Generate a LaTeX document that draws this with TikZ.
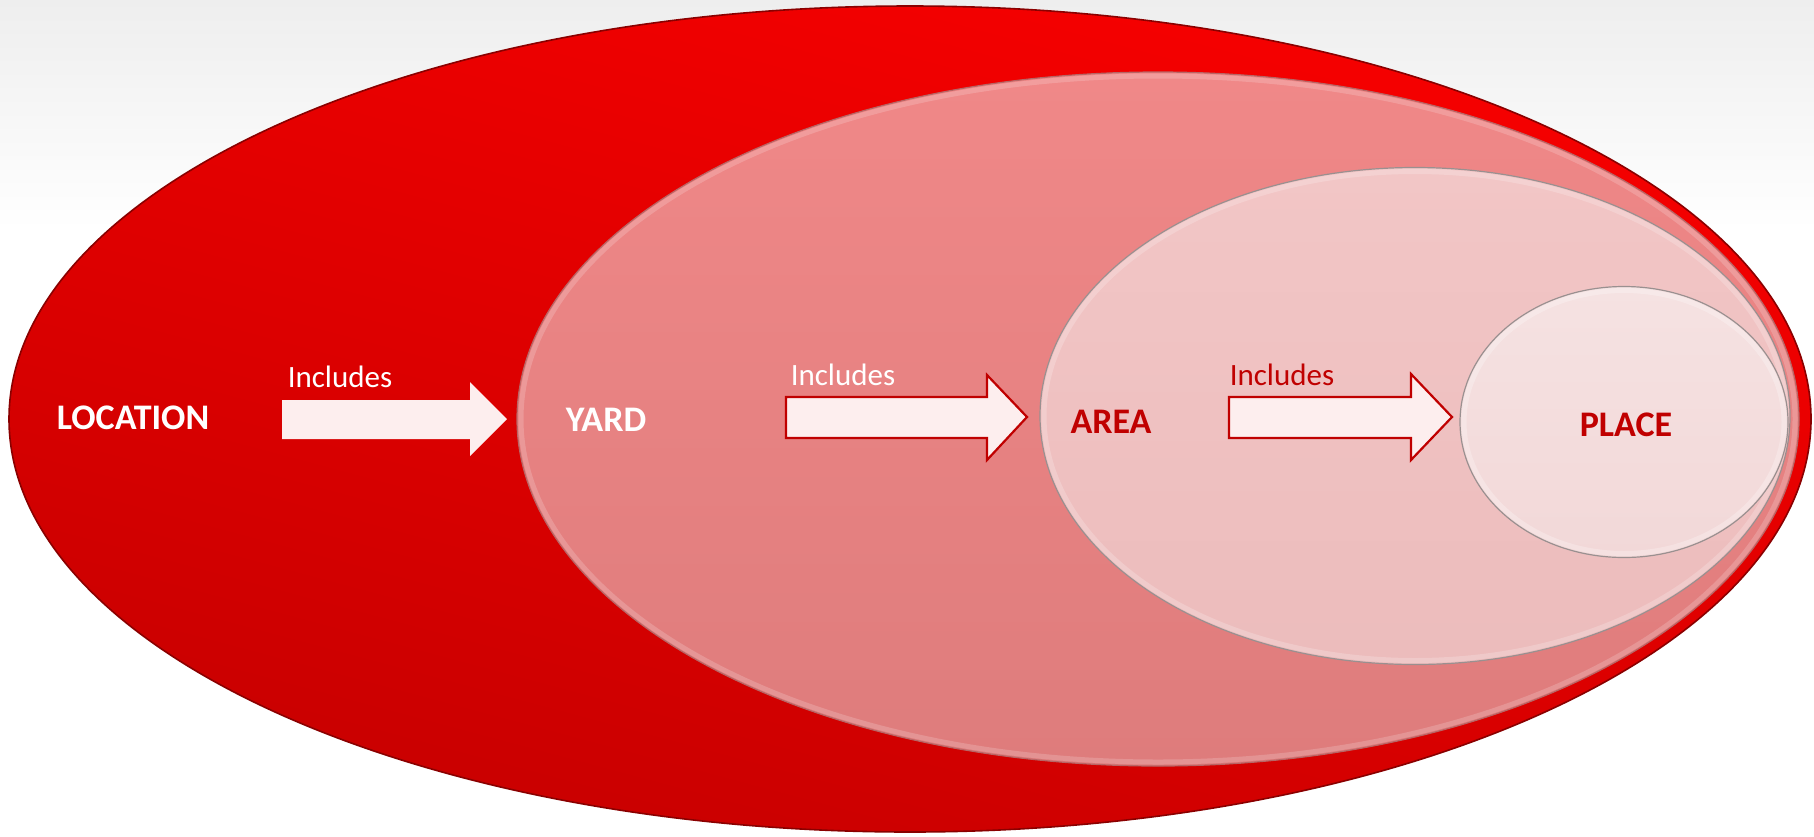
\documentclass[tikz,border=0pt]{standalone}
\usepackage{fontspec}
\setmainfont{Carlito}
\usetikzlibrary{shapes.geometric}
\definecolor{bgtop}{HTML}{EEEEEE}
\definecolor{redA}{HTML}{F70000}
\definecolor{redB}{HTML}{C80000}
\definecolor{redEdge}{HTML}{8A0000}
\definecolor{yardA}{HTML}{F08888}
\definecolor{yardB}{HTML}{DE7C7C}
\definecolor{areaA}{HTML}{F2C6C6}
\definecolor{areaB}{HTML}{ECBCBC}
\definecolor{placeA}{HTML}{F5E2E2}
\definecolor{placeB}{HTML}{F2D8D8}
\definecolor{arrowfill}{HTML}{FDEEEE}
\definecolor{darkred}{HTML}{C00000}
\definecolor{rimgray}{HTML}{9A9090}
\tikzset{
  oval/.style={ellipse, inner sep=0pt, outer sep=0pt},
  blockarrow/.style={fill=arrowfill, line join=miter},
  blockarrowline/.style={blockarrow, draw=darkred, line width=2.2pt},
  bigword/.style={font=\fontsize{36}{40}\selectfont\bfseries, inner sep=0pt},
  incl/.style={font=\fontsize{31}{34}\selectfont, inner sep=0pt},
}
\begin{document}
\begin{tikzpicture}[x=1pt,y=-1pt]
\useasboundingbox (0,0) rectangle (1814,836);
% background
\fill[white] (0,0) rectangle (1814,836);
\shade[top color=bgtop, bottom color=white] (0,0) rectangle (1814,230);
% LOCATION ellipse
\node[oval, minimum width=1802pt, minimum height=826pt, draw=redEdge, line width=1.6pt,
      top color=redA, bottom color=redB, shading angle=-15] (loc) at (910,419) {};
% YARD ellipse
\node[oval, minimum width=1282pt, minimum height=694pt, draw=rimgray!70!red, line width=1.2pt,
      top color=yardA, bottom color=yardB] (yard) at (1158,419) {};
\node[oval, minimum width=1274pt, minimum height=686pt, draw=white, draw opacity=0.18, line width=5pt] (yardrim) at (1158,419) {};
% AREA ellipse
\node[oval, minimum width=750pt, minimum height=497pt, draw=rimgray, line width=1.2pt,
      top color=areaA, bottom color=areaB] (area) at (1415,416) {};
\node[oval, minimum width=742pt, minimum height=489pt, draw=white, draw opacity=0.2, line width=5pt] (arearim) at (1415,416) {};
% PLACE ellipse
\node[oval, minimum width=328pt, minimum height=271pt, draw=rimgray, line width=1.2pt,
      top color=placeA, bottom color=placeB] (place) at (1624,422) {};
\node[oval, minimum width=320pt, minimum height=263pt, draw=white, draw opacity=0.25, line width=5pt] (placerim) at (1624,422) {};
% arrows
\fill[blockarrow] (282,400) -- (470,400) -- (470,382) -- (507,419) -- (470,456) -- (470,439) -- (282,439) -- cycle;
\filldraw[blockarrowline] (786,397) -- (987,397) -- (987,375) -- (1027,417) -- (987,460) -- (987,438) -- (786,438) -- cycle;
\filldraw[blockarrowline] (1229,397) -- (1411,397) -- (1411,374) -- (1452,417) -- (1411,460) -- (1411,438) -- (1229,438) -- cycle;
% labels
\node[bigword, text=white] (tloc) at (133,418) {LOCATION};
\node[bigword, text=white] (tyard) at (606,420) {YARD};
\node[bigword, text=darkred] (tarea) at (1111,422) {AREA};
\node[bigword, text=darkred] (tplace) at (1626,425) {PLACE};
\node[incl, text=white] (i1) at (340,377) {Includes};
\node[incl, text=white] (i2) at (843,375) {Includes};
\node[incl, text=darkred] (i3) at (1282,375) {Includes};
\end{tikzpicture}
\end{document}
